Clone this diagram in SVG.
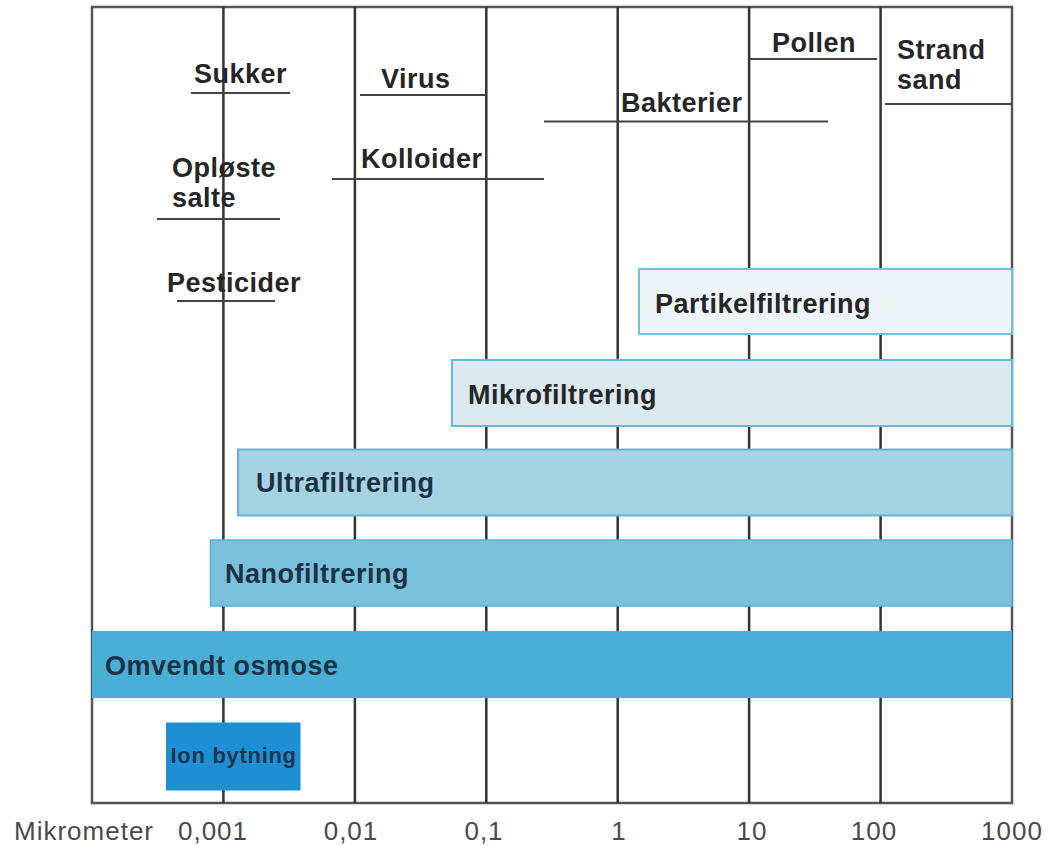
<svg xmlns="http://www.w3.org/2000/svg" width="1048" height="846" viewBox="0 0 1048 846">
<style>
.lbl{font-family:"Liberation Sans",Arial,sans-serif;font-weight:bold;font-size:27px;letter-spacing:0.5px;fill:#262626}
.bar{font-family:"Liberation Sans",Arial,sans-serif;font-weight:bold;font-size:27px;letter-spacing:0.5px;fill:#1b3245}
.ax{font-family:"Liberation Sans",Arial,sans-serif;font-size:26px;letter-spacing:1px;fill:#4a4a4a}
.grid{stroke:#333;stroke-width:2.5;fill:none}
.ul{stroke:#444;stroke-width:2}
</style>
<rect width="1048" height="846" fill="#fff"/>
<g id="frame">
<rect x="92" y="7" width="920" height="796" fill="none" stroke="#555" stroke-width="2.5"/>
<line x1="223.4" y1="7" x2="223.4" y2="803" class="grid"/>
<line x1="354.9" y1="7" x2="354.9" y2="803" class="grid"/>
<line x1="486.3" y1="7" x2="486.3" y2="803" class="grid"/>
<line x1="617.7" y1="7" x2="617.7" y2="803" class="grid"/>
<line x1="749.1" y1="7" x2="749.1" y2="803" class="grid"/>
<line x1="880.6" y1="7" x2="880.6" y2="803" class="grid"/>
</g>
<g id="connectors">
<line x1="191" y1="93" x2="290" y2="93" class="ul"/>
<line x1="360" y1="95" x2="486" y2="95" class="ul"/>
<line x1="157" y1="219" x2="280" y2="219" class="ul"/>
<line x1="332" y1="179" x2="544" y2="179" class="ul"/>
<line x1="177" y1="301" x2="275" y2="301" class="ul"/>
<line x1="544" y1="121.5" x2="828" y2="121.5" class="ul"/>
<line x1="749" y1="59" x2="877" y2="59" class="ul"/>
<line x1="885" y1="104" x2="1012" y2="104" class="ul"/>
</g>
<g id="sukker"><text x="194" y="83" class="lbl">Sukker</text></g>
<g id="virus"><text x="381" y="88" class="lbl">Virus</text></g>
<g id="oploeste"><text x="172" y="177" class="lbl">Opløste</text><text x="172" y="207" class="lbl">salte</text></g>
<g id="kolloider"><text x="361" y="168" class="lbl">Kolloider</text></g>
<g id="pesticider"><text x="167" y="292" class="lbl">Pesticider</text></g>
<g id="bakterier"><text x="621" y="112" class="lbl">Bakterier</text></g>
<g id="pollen"><text x="772" y="52" class="lbl">Pollen</text></g>
<g id="strandsand"><text x="897" y="59" class="lbl">Strand</text><text x="897" y="89" class="lbl">sand</text></g>
<g id="partikelfiltrering">
<rect x="639" y="269" width="373" height="65" fill="#eef5f8" stroke="#6cc3dc" stroke-width="2"/>
<text x="655" y="313" class="lbl">Partikelfiltrering</text>
</g>
<g id="mikrofiltrering">
<rect x="452" y="360" width="560" height="66" fill="#d9e9ef" stroke="#62bcd8" stroke-width="2"/>
<text x="468" y="404" class="lbl">Mikrofiltrering</text>
</g>
<g id="ultrafiltrering">
<rect x="238" y="449.5" width="774" height="66" fill="#a6d3e3" stroke="#5fb6d4" stroke-width="2"/>
<text x="256" y="492" class="bar">Ultrafiltrering</text>
</g>
<g id="nanofiltrering">
<rect x="210.5" y="540" width="801.5" height="66" fill="#79c1dc" stroke="#5ab0d0" stroke-width="1.5"/>
<text x="225" y="583" class="bar">Nanofiltrering</text>
</g>
<g id="omvendtosmose">
<rect x="92" y="631" width="920" height="67" fill="#49afd6"/>
<text x="105" y="675" class="bar">Omvendt osmose</text>
</g>
<g id="ionbytning">
<rect x="166" y="722.5" width="134.5" height="68" fill="#1f8fd3"/>
<text x="170.5" y="763" style="font-family:'Liberation Sans',Arial,sans-serif;font-weight:bold;font-size:22px;letter-spacing:0.7px;fill:#1b3552">Ion bytning</text>
</g>
<g id="axis">
<text x="14" y="840" class="ax">Mikrometer</text>
<text x="213" y="840" class="ax" text-anchor="middle">0,001</text>
<text x="351" y="840" class="ax" text-anchor="middle">0,01</text>
<text x="484" y="840" class="ax" text-anchor="middle">0,1</text>
<text x="619" y="840" class="ax" text-anchor="middle">1</text>
<text x="752" y="840" class="ax" text-anchor="middle">10</text>
<text x="874" y="840" class="ax" text-anchor="middle">100</text>
<text x="1012" y="840" class="ax" text-anchor="middle">1000</text>
</g>
</svg>
